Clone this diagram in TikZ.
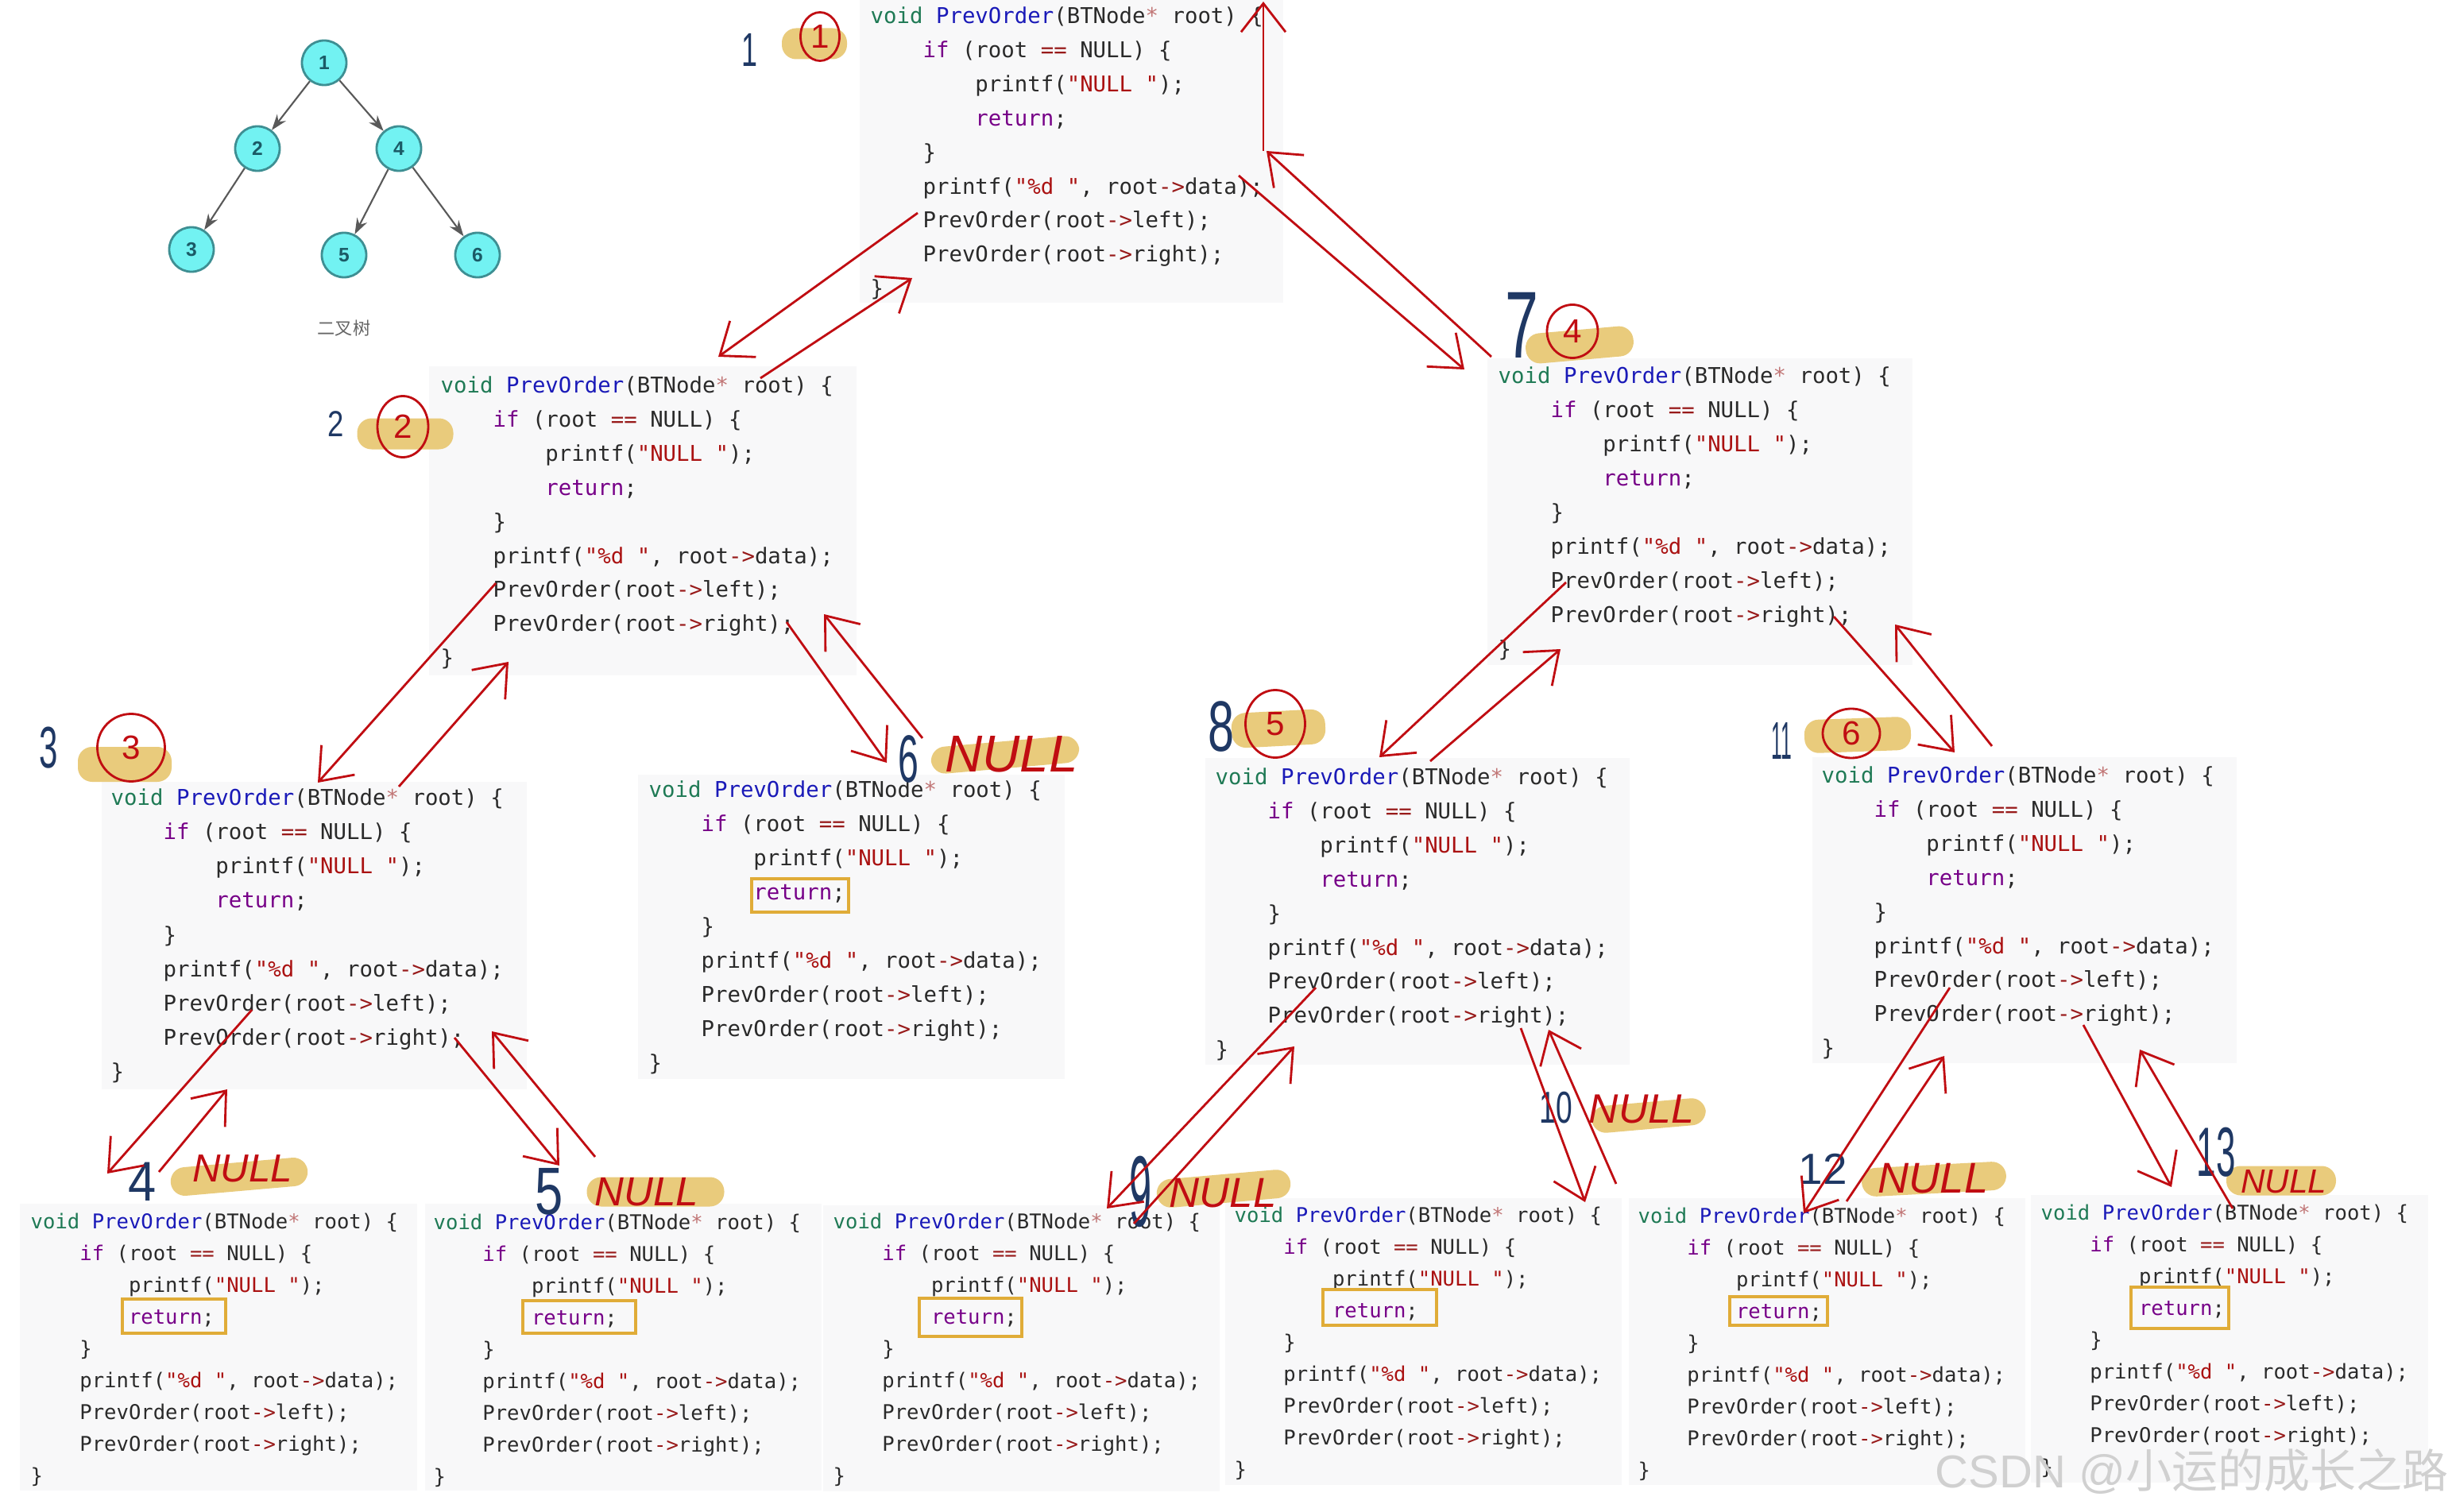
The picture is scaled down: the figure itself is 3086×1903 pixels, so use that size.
\documentclass[tikz,border=0pt]{standalone}
\usepackage{fontspec}
\usepackage{xcolor}
\usepackage{graphicx}
\setsansfont{Liberation Sans}
\setmonofont{DejaVu Sans Mono}
\newfontfamily\cjkfont{Noto Sans CJK SC}
\usetikzlibrary{arrows.meta,shapes.geometric}
\definecolor{codepaper}{HTML}{F8F8F9}
\definecolor{codeink}{HTML}{2A2A2A}
\definecolor{typegreen}{HTML}{1F7A55}
\definecolor{defblue}{HTML}{1A1AB8}
\definecolor{kwpurple}{HTML}{770088}
\definecolor{strred}{HTML}{AA1111}
\definecolor{opred}{HTML}{981A1A}
\definecolor{retgold}{HTML}{E0AC38}
\definecolor{blobgold}{HTML}{E9CB7C}
\definecolor{handred}{HTML}{C00D12}
\definecolor{handblue}{HTML}{1F3864}
\definecolor{treefill}{HTML}{72F2F2}
\definecolor{treeline}{HTML}{3E8F93}
\definecolor{treeink}{HTML}{1B5A66}
\definecolor{wmgray}{HTML}{D0D0D0}
\tikzset{
  codebg/.style={fill=codepaper,inner sep=0pt,outer sep=0pt,anchor=north west},
  codetext/.style 2 args={font=\ttfamily\fontsize{#1}{#2}\selectfont,
                          text=codeink,align=left,inner sep=0pt,anchor=north west},
  retbox/.style={draw=retgold,line width=1pt,inner sep=0pt},
  blob/.style={fill=blobgold,rounded corners=1.8mm,inner sep=0pt},
  circnum/.style={ellipse,draw=handred,line width=0.8pt,inner sep=0pt,text=handred,
                  font=\sffamily\fontsize{12}{12}\selectfont},
  bluenum/.style={text=handblue,inner sep=0pt,
                  font=\sffamily\fontsize{#1}{#1}\selectfont},
  nulltag/.style={text=handred,inner sep=0pt,
                  font=\sffamily\itshape\fontsize{#1}{#1}\selectfont},
  handarr/.style={-{Straight Barb[length=3.6mm,width=5.6mm]},line width=0.8pt,
                  draw=handred},
  treenode/.style={circle,draw=treeline,fill=treefill,line width=0.8pt,
                   minimum size=5.6mm,inner sep=0pt,text=treeink,
                   font=\sffamily\bfseries\fontsize{7}{7}\selectfont},
  treearr/.style={-{Stealth[length=2mm,width=1.4mm]},line width=0.6pt,
                  draw=black!65}
}
\newcommand{\ind}{\mbox{\ \ \ \ }}
\newcommand{\codelines}{%
  {\color{typegreen}void} {\color{defblue}PrevOrder}(BTNode{\color{opred!60}*} root) \{\\%
  \ind{\color{kwpurple}if} (root {\color{opred}==} NULL) \{\\%
  \ind\ind printf({\color{strred}"NULL "});\\%
  \ind\ind{\color{kwpurple}return};\\%
  \ind\}\\%
  \ind printf({\color{strred}"\%d "}, root{\color{opred}->}data);\\%
  \ind PrevOrder(root{\color{opred}->}left);\\%
  \ind PrevOrder(root{\color{opred}->}right);\\%
  \}}
\begin{document}
\begin{tikzpicture}[x=0.01cm,y=-0.01cm]
    \path[use as bounding box,fill=white] (0,0) rectangle (3086,1903);
    \foreach \nm/\xa/\ya/\xb/\yb/\tx/\ty/\fs/\ls in {
        top/1082/0/1615/381/1095/8/7.78/12.2,
        lft/540/461/1078/850/554/473/7.78/12.2,
        lftl/128/984/663/1371/139/992/7.78/12.27,
        nullb/803/975/1340/1358/816/982/7.78/12.22,
        rgt/1872/451/2407/837/1885/461/7.78/12.22,
        rgtl/1517/954/2051/1340/1529/966/7.78/12.2,
        rgtr/2281/953/2815/1338/2292/964/7.78/12.2,
        bota/25/1515/525/1876/38/1526/7.28/11.38,
        botb/535/1515/1034/1876/545/1527/7.28/11.38,
        botc/1036/1517/1535/1877/1048/1526/7.28/11.38,
        botd/1542/1508/2041/1869/1553/1518/7.28/11.38,
        bote/2050/1508/2549/1869/2061/1519/7.28/11.38,
        botf/2556/1504/3056/1866/2568/1515/7.28/11.38}{
      \node[codebg,minimum width={(\xb-\xa)*0.01cm},minimum height={(\yb-\ya)*0.01cm}]
        (\nm) at (\xa,\ya) {};
      \node[codetext={\fs}{\ls}] (\nm-txt) at (\tx,\ty) {\codelines};
    }
    \foreach \nm/\xa/\ya/\xb/\yb in {retb/946/1106/1068/1148,reta/154/1635/284/1678,
        retc/658/1637/800/1678,retd/1157/1634/1286/1682,rete/1665/1623/1808/1668,
        retf/2177/1632/2300/1668,retg/2682/1620/2805/1672}{
      \node[retbox,minimum width={(\xb-\xa)*0.01cm},minimum height={(\yb-\ya)*0.01cm}]
        (\nm) at ({(\xa+\xb)/2},{(\ya+\yb)/2}) {};
    }
    % tree
    \node[treenode] (t1) at (408,79) {1};
    \node[treenode] (t2) at (324,187) {2};
    \node[treenode] (t4) at (502,187) {4};
    \node[treenode] (t3) at (241,314) {3};
    \node[treenode] (t5) at (433,321) {5};
    \node[treenode] (t6) at (601,321) {6};
    \foreach \a/\b in {t1/t2,t1/t4,t2/t3,t4/t5,t4/t6}
      \draw[treearr] (\a) -- (\b);
    \node[font=\cjkfont\fontsize{6.3}{6.3}\selectfont,text=black!60,inner sep=0pt]
      (treecap) at (433,413) {二叉树};
    % highlighter blobs
    \foreach \nm/\cx/\cy/\w/\h/\rot in {
        hla/1025/55/82/39/0,hlb/510/546/121/39/0,hlc/157/962/118/44/0,
        hld/1988/434/136/38/5,hle/1609/917/118/44/3,hlf/2338/925/134/42/2,
        hlg/1265/950/187/34/5,hlh/301/1481/173/36/5,hli/825/1500/173/37/0,
        hlj/1540/1496/169/36/5,hlk/2075/1404/144/34/5,hll/2434/1484/182/36/3,
        hlm/2871/1486/138/37/0}{
      \node[blob,minimum width={\w*0.01cm},minimum height={\h*0.01cm},rotate=\rot]
        (\nm) at (\cx,\cy) {};
    }
    % circled order marks
    \foreach \m/\cx/\cy/\w/\h in {1/1032/46/49/61,2/507/537/64/77,3/165/941/85/85,
        4/1979/417/64/67,5/1605/911/75/85,6/2330/923/72/62}{
      \node[circnum,minimum width={\w*0.01cm},minimum height={\h*0.01cm}]
        (mark\m) at (\cx,\cy) {\m};
    }
    % visit numbers
    \foreach \m/\cx/\cy/\sz/\xs in {1/943/63/17/.6,2/423/534/13/.8,3/61/941/21/.57,
        4/179/1487/20/.9,5/691/1500/24/.75,6/1143/955/24/.55,7/1915/409/34/.63,
        8/1537/915/25.6/.66,9/1436/1500/36/.4,10/1958/1394/16/.66,11/2242/933/19/.37,
        12/2294/1471/15.6/1,13/2789/1450/25/.5}{
      \node[bluenum=\sz] (vis\m) at (\cx,\cy) {\scalebox{\xs}[1]{\m}};
    }
    % NULL tags
    \foreach \nm/\cx/\cy/\sz in {nla/305/1471/14,nlb/814/1500/14.5,nlc/1273/949/18.6,
        nld/1539/1502/15,nle/2066/1396/14.7,nlf/2433/1483/15.4,nlg/2874/1487/12}{
      \node[nulltag=\sz] (\nm) at (\cx,\cy) {NULL};
    }
    % call and return strokes
    \foreach \i/\xa/\ya/\xb/\yb in {
        a/1155/268/904/449,b/957/476/1148/350,c/1590/190/1590/2,d/1877/449/1594/190,
        e/1559/221/1843/465,f/624/734/400/985,g/502/990/640/833,h/990/783/1116/960,
        j/1161/929/1037/773,k/317/1271/135/1477,l/200/1475/286/1371,m/572/1306/704/1467,
        n/749/1456/619/1298,o/1656/1243/1393/1521,p/1427/1540/1629/1317,
        q/1914/1294/1995/1513,r/2034/1490/1949/1296,s/1971/733/1736/953,
        t/1800/958/1964/817,u/2308/776/2460/947,v/2507/939/2385/786,
        w/2454/1243/2270/1527,x/2324/1512/2447/1329,y/2622/1290/2733/1494,
        z/2810/1521/2693/1321}{
      \coordinate (\i-from) at (\xa,\ya);
      \coordinate (\i-to) at (\xb,\yb);
      \draw[handarr] (\i-from) -- (\i-to);
    }
    \node[anchor=east,inner sep=0pt,text=wmgray,
          font=\sffamily\fontsize{16.5}{16.5}\selectfont] (wmark) at (3082,1852)
      {CSDN @{\cjkfont 小运的成长之路}};
\end{tikzpicture}
\end{document}
